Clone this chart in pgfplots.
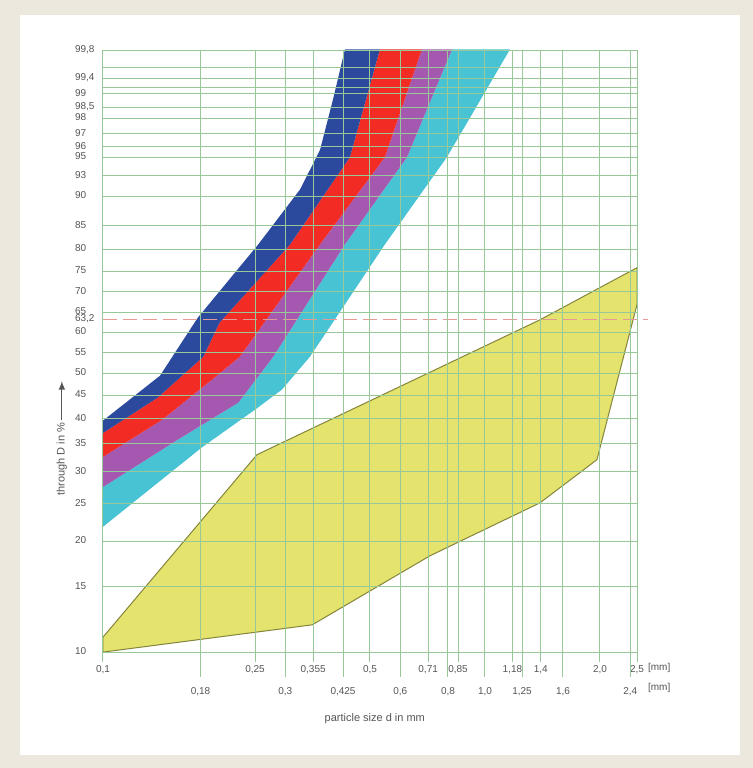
\documentclass[border=0pt]{standalone}
\usepackage{pgfplots}
\pgfplotsset{compat=1.18}
\usepackage{fontspec}
\setmainfont{Liberation Sans}
\definecolor{bgbeige}{HTML}{EDE8DD}
\definecolor{gridc}{HTML}{98C898}
\definecolor{labelc}{HTML}{555555}
\definecolor{cblue}{HTML}{2B4A9E}
\definecolor{cred}{HTML}{F22B24}
\definecolor{cmag}{HTML}{A458AF}
\definecolor{ccyan}{HTML}{48C3D4}
\definecolor{cyel}{HTML}{E3E36D}
\definecolor{cyelb}{HTML}{85853C}
\definecolor{cdash}{HTML}{E59A9A}
\begin{document}
\begin{tikzpicture}
\fill[bgbeige] (-51.5pt,-58pt) rectangle (325pt,326pt);
\fill[white] (-41.5pt,-51.5pt) rectangle (318.5pt,318.5pt);
\begin{axis}[
  at={(0,0)}, anchor=south west,
  scale only axis, width=267pt, height=301pt,
  xmode=log, xmin=0.1, xmax=2.5,
  ymin=10, ymax=99.8,
  y coord trafo/.code={\pgfmathparse{ln(-ln(1-#1/100))}},
  axis on top, clip=false,
  axis line style={draw=gridc, line width=0.5pt},
  grid=major, grid style={gridc, line width=0.5pt},
  xtick={0.1,0.18,0.25,0.3,0.355,0.425,0.5,0.6,0.71,0.8,0.85,1.0,1.18,1.25,1.4,1.6,2.0,2.4,2.5},
  xticklabels={{0,1},{},{0,25},{},{0,355},{},{0,5},{},{0,71},{},{0,85},{},{1,18},{},{1,4},{},{2,0},{},{2,5}},
  xtick pos=left, tick align=inside, major tick length=0pt,
  x tick style={draw=none},
  ytick={10,15,20,25,30,35,40,45,50,55,60,65,70,75,80,85,90,93,95,96,97,98,98.5,99,99.2,99.4,99.6,99.8},
  yticklabels={10,15,20,25,30,35,40,45,50,55,60,65,70,75,80,85,90,93,95,96,97,98,{98,5},99,{},{99,4},{},{99,8}},
  extra y ticks={63.2}, extra y tick labels={63{,}2},
  extra y tick style={grid=none},
  y tick style={draw=none},
  typeset ticklabels with strut,
  tick label style={font=\fontsize{5}{6}\selectfont, text=labelc},
  xticklabel style={yshift=-2.5pt},
  yticklabel style={anchor=west, xshift=-17.5pt},
]
% bands (boundaries)
\addplot[draw=none, fill=ccyan] coordinates {
 (0.100,27.5) (0.157,35.8) (0.226,43.4) (0.279,54.0) (0.430,81.0) (0.625,95.0) (0.820,99.8)
 (1.163,99.8) (0.795,95.0) (0.547,81.0) (0.348,54.0) (0.294,46.3) (0.250,41.9) (0.182,34.4) (0.100,21.8)};
\addplot[draw=none, fill=cmag] coordinates {
 (0.100,32.6) (0.143,39.8) (0.193,48.6) (0.228,54.0) (0.370,81.0) (0.547,95.0) (0.684,99.8)
 (0.820,99.8) (0.625,95.0) (0.430,81.0) (0.279,54.0) (0.226,43.4) (0.157,35.8) (0.100,27.5)};
\addplot[draw=none, fill=cred] coordinates {
 (0.100,37.1) (0.139,44.5) (0.183,54.0) (0.202,62.4) (0.309,81.0) (0.443,95.0) (0.531,99.8)
 (0.684,99.8) (0.547,95.0) (0.370,81.0) (0.228,54.0) (0.193,48.6) (0.143,39.8) (0.100,32.6)};
\addplot[draw=none, fill=cblue] coordinates {
 (0.100,39.6) (0.141,49.5) (0.177,63.6) (0.255,81.0) (0.328,91.0) (0.370,95.7) (0.400,98.8) (0.430,99.8)
 (0.531,99.8) (0.443,95.0) (0.309,81.0) (0.202,62.4) (0.183,54.0) (0.139,44.5) (0.100,37.1)};
\addplot[draw=cyelb, line width=0.5pt, fill=cyel] coordinates {
 (0.1,10) (0.1,11.0) (0.253,33.0) (1.393,63.1) (2.5,75.8) (2.5,66.9) (1.964,32.1)
 (1.393,25.1) (0.718,18.3) (0.353,11.9) (0.1,10)};
\draw[cdash, line width=0.6pt, dash pattern=on 7pt off 3pt] (axis cs:0.1,63.2) -- (axis cs:2.67,63.2);
\node[anchor=west, font=\fontsize{5}{6}\selectfont, text=labelc] at (axis cs:2.5,10) [xshift=2pt, yshift=-8pt] {[mm]};
\node[anchor=west, font=\fontsize{5}{6}\selectfont, text=labelc] at (axis cs:2.5,10) [xshift=2pt, yshift=-18pt] {[mm]};
\node[font=\fontsize{5.5}{6.5}\selectfont, text=labelc] at (rel axis cs:0.509,-0.111) {particle size d in mm};
\node[rotate=90, font=\fontsize{5.5}{6.5}\selectfont, text=labelc] at (rel axis cs:-0.077,0.32) {through D in \%};
\draw[labelc, line width=0.5pt, -latex] (rel axis cs:-0.077,0.385) -- (rel axis cs:-0.077,0.45);
\end{axis}
% second row of sieve sizes and the tick strokes below the grid
\begin{axis}[
  at={(0,0)}, anchor=south west,
  scale only axis, width=267pt, height=301pt,
  xmode=log, xmin=0.1, xmax=2.5, ymin=0, ymax=1,
  hide y axis, axis line style={draw=none}, clip=false,
  xtick={0.18,0.3,0.425,0.6,0.8,1.0,1.25,1.6,2.4},
  xticklabels={{0,18},{0,3},{0,425},{0,6},{0,8},{1,0},{1,25},{1,6},{2,4}},
  xtick pos=left, tick align=outside, major tick length=12.5pt,
  x tick style={draw=none},
  typeset ticklabels with strut,
  tick label style={font=\fontsize{5}{6}\selectfont, text=labelc},
  xticklabel style={yshift=-1pt},
]
\addplot[ycomb, gridc, line width=0.5pt, mark=none] coordinates {
 (0.1,-0.0166) (0.25,-0.0166) (0.355,-0.0166) (0.5,-0.0166) (0.71,-0.0166)
 (0.85,-0.0166) (1.18,-0.0166) (1.4,-0.0166) (2.0,-0.0166) (2.5,-0.0166)};
\addplot[ycomb, gridc, line width=0.5pt, mark=none] coordinates {
 (0.18,-0.0415) (0.3,-0.0415) (0.425,-0.0415) (0.6,-0.0415) (0.8,-0.0415)
 (1.0,-0.0415) (1.25,-0.0415) (1.6,-0.0415) (2.4,-0.0415)};
\end{axis}
\end{tikzpicture}
\end{document}
